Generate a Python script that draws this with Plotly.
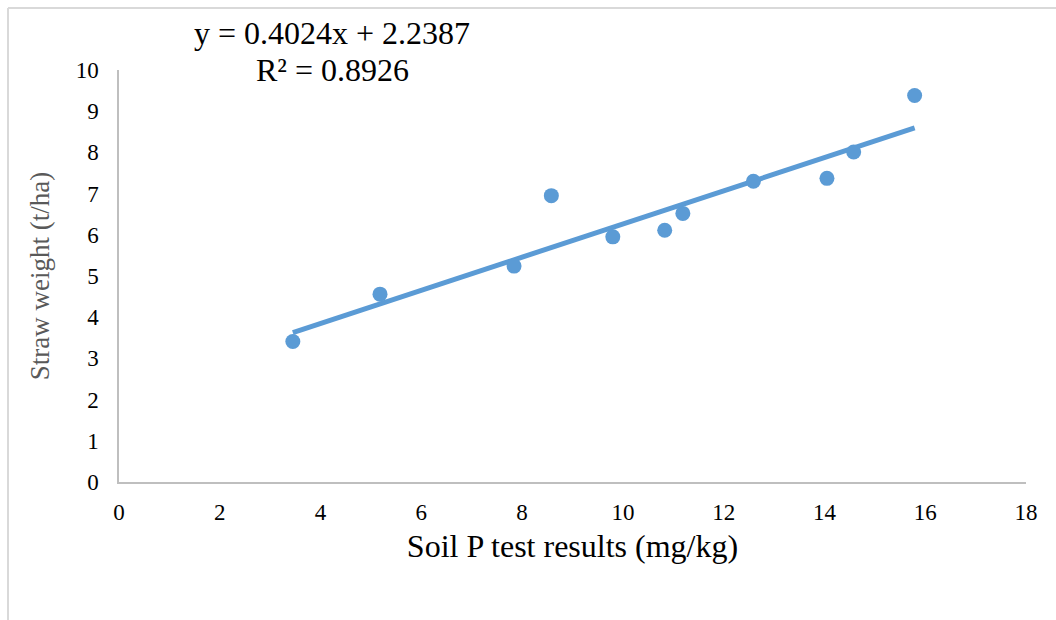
import plotly.graph_objects as go

# Soil P test results (mg/kg) and straw weight (t/ha)
soil_p = [3.45, 5.18, 7.84, 8.58, 9.80, 10.83, 11.19, 12.59, 14.05, 14.58, 15.79]
straw_weight = [3.41, 4.56, 5.24, 6.95, 5.95, 6.11, 6.52, 7.30, 7.37, 8.01, 9.38]

# Linear trendline coefficients and fit quality
slope = 0.4024
intercept = 2.2387
r_squared = 0.8926

x_ticks = [0, 2, 4, 6, 8, 10, 12, 14, 16, 18]
y_ticks = [0, 1, 2, 3, 4, 5, 6, 7, 8, 9, 10]

blue = "#5B9BD5"
font_family = "Liberation Serif, Times New Roman, serif"

x_fit = [min(soil_p), max(soil_p)]
y_fit = [slope * v + intercept for v in x_fit]

fig = go.Figure()
fig.add_trace(go.Scatter(
    x=x_fit, y=y_fit, mode="lines",
    line=dict(color=blue, width=5), hoverinfo="skip", showlegend=False,
))
fig.add_trace(go.Scatter(
    x=soil_p, y=straw_weight, mode="markers",
    marker=dict(color=blue, size=15), showlegend=False,
))

fig.update_layout(
    width=1056, height=620,
    margin=dict(l=119, r=30, t=70, b=138),
    paper_bgcolor="white", plot_bgcolor="white",
    font=dict(family=font_family, color="#000000"),
    xaxis=dict(
        range=[0, 18], tickvals=x_ticks, ticks="", showgrid=False, zeroline=False,
        showline=True, linecolor="#bfbfbf", linewidth=1.5,
        tickfont=dict(size=23, family=font_family, color="#000000"),
        title=dict(text="Soil P test results (mg/kg)", font=dict(size=32, family=font_family, color="#000000"), standoff=10),
        ticklabelstandoff=9,
    ),
    yaxis=dict(
        range=[0, 10], tickvals=y_ticks, ticks="", showgrid=False, zeroline=False,
        showline=True, linecolor="#bfbfbf", linewidth=1.5,
        tickfont=dict(size=23, family=font_family, color="#000000"),
        title=dict(text="Straw weight (t/ha)", font=dict(size=27, family=font_family, color="#595959"), standoff=18),
        ticklabelstandoff=14,
    ),
    annotations=[
        dict(text=f"y = {slope}x + {intercept}", xref="paper", yref="paper",
             x=0.235, y=1.090, showarrow=False, xanchor="center", yanchor="middle",
             font=dict(size=32, family=font_family, color="#000000")),
        dict(text=f"R² = {r_squared}", xref="paper", yref="paper",
             x=0.235, y=1.0, showarrow=False, xanchor="center", yanchor="middle",
             font=dict(size=32, family=font_family, color="#000000")),
    ],
    shapes=[
        dict(type="line", xref="paper", yref="paper", x0=-0.1224, x1=1.035, y0=1.1505, y1=1.1505,
             line=dict(color="#d9d9d9", width=2)),
        dict(type="line", xref="paper", yref="paper", x0=-0.1224, x1=-0.1224, y0=-0.34, y1=1.1505,
             line=dict(color="#d9d9d9", width=2)),
    ],
)

fig.write_html("out.html")
